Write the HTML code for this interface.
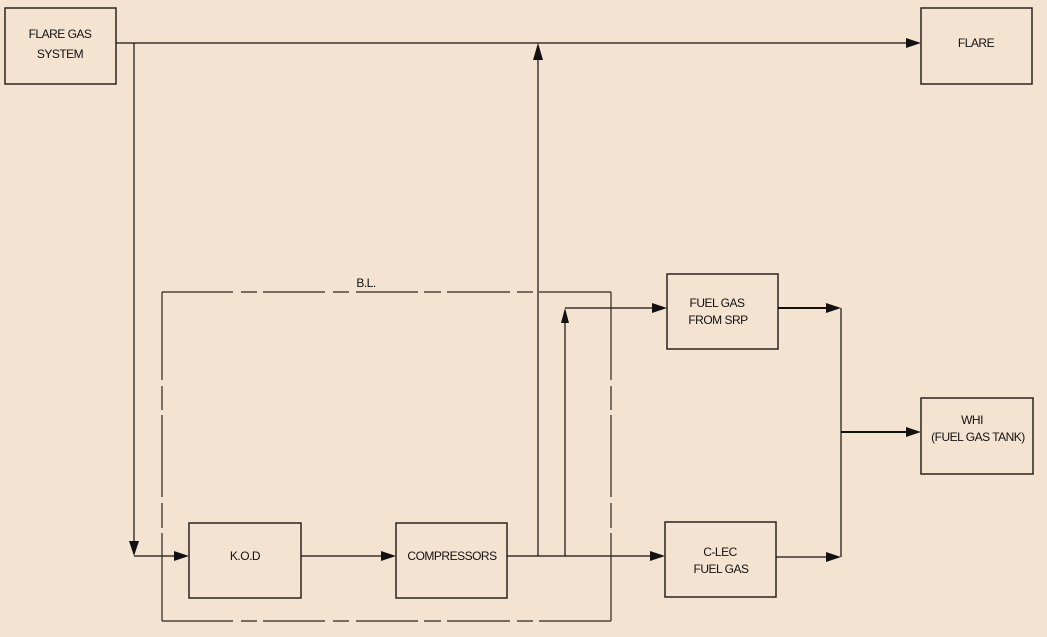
<!DOCTYPE html>
<html><head><meta charset="utf-8"><style>
html,body{margin:0;padding:0;background:#f5e3d1;}
svg{display:block}
text{font-family:"Liberation Sans",Arial,sans-serif;font-size:12px;fill:#111;text-anchor:middle;letter-spacing:-0.5px}
</style></head><body>
<svg width="1047" height="637" viewBox="0 0 1047 637" xmlns="http://www.w3.org/2000/svg">
<rect width="1047" height="637" fill="#f5e3d1"/>
<g fill="none" stroke="#2a2420" stroke-width="1.5">
<rect x="5" y="8" width="111" height="76"/>
<rect x="921" y="8" width="111" height="76"/>
<rect x="189" y="523" width="112" height="75"/>
<rect x="396" y="523" width="111" height="75"/>
<rect x="665" y="522" width="111" height="75"/>
<rect x="667" y="274" width="111" height="75"/>
<rect x="921" y="398" width="112" height="76"/>
</g>
<g stroke="#111" stroke-width="1.2" fill="none">
<line x1="116" y1="43" x2="906" y2="43"/>
<line x1="134" y1="43" x2="134" y2="542"/>
<line x1="134" y1="556" x2="175" y2="556"/>
<line x1="301" y1="556" x2="382" y2="556"/>
<line x1="507" y1="556" x2="651" y2="556"/>
<line x1="538" y1="556" x2="538" y2="58"/>
<line x1="565" y1="556" x2="565" y2="322"/>
<line x1="565" y1="308" x2="653" y2="308"/>
<line x1="778" y1="308" x2="827" y2="308" stroke-width="2"/>
<line x1="776" y1="557" x2="827" y2="557"/>
<line x1="841" y1="308" x2="841" y2="557"/>
<line x1="841" y1="432" x2="907" y2="432" stroke-width="2"/>
</g>
<g fill="#111">
<polygon points="921,43 906,38 906,48"/>
<polygon points="134,556 129,541 139,541"/>
<polygon points="189,556 174,551 174,561"/>
<polygon points="396,556 381,551 381,561"/>
<polygon points="665,556 650,551 650,561"/>
<polygon points="538,43 533,60 543,60"/>
<polygon points="565,308 561,323 569,323"/>
<polygon points="667,308 652,303 652,313"/>
<polygon points="841,308 826,303 826,313"/>
<polygon points="841,557 826,552 826,562"/>
<polygon points="921,432 906,427 906,437"/>
</g>
<g stroke="#2a2420" stroke-width="1.2">
<path d="M162 292H233M241 292H257M263 292H325M333 292H349M356 292H418M424 292H441M447 292H510M517 292H533M539 292H611"/>
<path d="M162 621H233M241 621H257M263 621H325M333 621H349M356 621H418M424 621H441M447 621H510M517 621H533M539 621H611"/>
<path d="M162 292V380M162 386V410M162 415V497M162 503V528M162 533V621"/>
<path d="M611 292V380M611 386V410M611 415V497M611 503V528M611 533V621"/>
</g>
<text x="60" y="38">FLARE GAS</text>
<text x="60" y="58">SYSTEM</text>
<text x="976" y="47">FLARE</text>
<text x="245" y="560">K.O.D</text>
<text x="452" y="560">COMPRESSORS</text>
<text x="720" y="556">C-LEC</text>
<text x="721" y="573">FUEL GAS</text>
<text x="717" y="307">FUEL GAS</text>
<text x="718" y="324">FROM SRP</text>
<text x="972" y="424">WHI</text>
<text x="978" y="441">(FUEL GAS TANK)</text>
<text x="366" y="287">B.L.</text>
</svg>
</body></html>
